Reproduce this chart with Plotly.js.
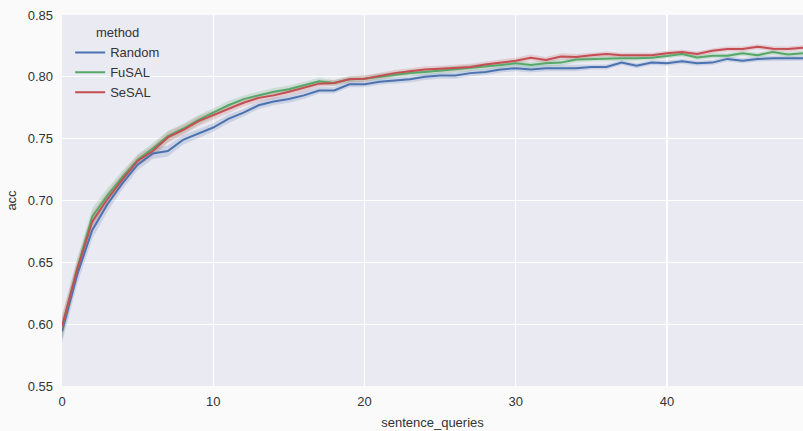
<!DOCTYPE html>
<html>
<head>
<meta charset="utf-8">
<script src="https://cdn.plot.ly/plotly-3.0.1.min.js"></script>
<style>html,body{margin:0;padding:0;background:#fafafa;}#chart{width:803px;height:431px;}</style>
</head>
<body>
<div id="chart"></div>
<script>
const sentenceQueries = [0,1,2,3,4,5,6,7,8,9,10,11,12,13,14,15,16,17,18,19,20,21,22,23,24,25,26,27,28,29,30,31,32,33,34,35,36,37,38,39,40,41,42,43,44,45,46,47,48,49];
const randomAcc = [0.594,0.640,0.676,0.697,0.714,0.729,0.738,0.740,0.749,0.754,0.759,0.766,0.771,0.777,0.780,0.782,0.785,0.789,0.789,0.794,0.794,0.796,0.797,0.798,0.800,0.801,0.801,0.803,0.804,0.806,0.807,0.806,0.807,0.807,0.807,0.808,0.808,0.8115,0.809,0.8115,0.811,0.8125,0.811,0.8115,0.8145,0.813,0.8145,0.815,0.815,0.815];
const fusalAcc = [0.597,0.645,0.687,0.704,0.719,0.733,0.742,0.752,0.758,0.765,0.771,0.777,0.782,0.785,0.788,0.790,0.793,0.7965,0.795,0.798,0.7985,0.800,0.802,0.803,0.804,0.805,0.806,0.807,0.808,0.8095,0.811,0.8095,0.811,0.8115,0.814,0.8145,0.815,0.815,0.815,0.8155,0.8168,0.8185,0.8157,0.817,0.817,0.819,0.8175,0.820,0.818,0.819];
const sesalAcc = [0.598,0.644,0.683,0.701,0.717,0.732,0.740,0.751,0.757,0.764,0.769,0.774,0.779,0.783,0.785,0.788,0.791,0.7945,0.795,0.798,0.7985,0.801,0.803,0.8045,0.806,0.8065,0.807,0.808,0.810,0.8115,0.813,0.8155,0.8136,0.8165,0.816,0.8175,0.8185,0.8175,0.8175,0.8175,0.819,0.820,0.8185,0.821,0.8225,0.8225,0.8244,0.8228,0.8225,0.8236];
const bandHalf = [0.009,0.008,0.007,0.006,0.005,0.0045,0.0045,0.0045,0.004,0.004,0.0035,0.0035,0.003,0.003,0.003,0.003,0.003,0.0025,0.0025,0.0025,0.0025,0.0025,0.0025,0.0025,0.0025,0.0025,0.0025,0.0025,0.0025,0.0025,0.0025,0.0025,0.0025,0.0025,0.0025,0.002,0.002,0.002,0.002,0.002,0.002,0.002,0.002,0.002,0.002,0.002,0.002,0.002,0.002,0.002];
const methods = ["Random","FuSAL","SeSAL"];
const xTicks = [0,10,20,30,40];
const yTicks = [0.55,0.60,0.65,0.70,0.75,0.80,0.85];

const series = [randomAcc, fusalAcc, sesalAcc];
const colors = ["#4C72B0","#55A868","#C44E52"];
const bandColors = ["rgba(76,114,176,0.2)","rgba(85,168,104,0.2)","rgba(196,78,82,0.2)"];

const traces = [];
series.forEach((vals, i) => {
  const up = vals.map((v, k) => v + bandHalf[k]);
  const lo = vals.map((v, k) => v - bandHalf[k]);
  traces.push({x: sentenceQueries.concat(sentenceQueries.slice().reverse()), y: up.concat(lo.slice().reverse()),
    type: "scatter", mode: "lines", fill: "toself", fillcolor: bandColors[i], line: {width: 0}, hoverinfo: "skip", showlegend: false});
});
series.forEach((vals, i) => {
  traces.push({x: sentenceQueries, y: vals, type: "scatter", mode: "lines", name: methods[i], line: {color: colors[i], width: 2}});
});

const layout = {
  width: 803, height: 431,
  margin: {l: 62, r: 0, t: 15, b: 45, pad: 0},
  paper_bgcolor: "#fafafa", plot_bgcolor: "#EAEAF2",
  font: {family: "Liberation Sans, Arial, sans-serif", size: 13, color: "#333333"},
  xaxis: {range: [0, 49], tickvals: xTicks, ticktext: xTicks.map(String), showgrid: true, gridcolor: "#ffffff", gridwidth: 1.3,
    zeroline: false, showline: false, ticks: "", ticklabelstandoff: 6,
    title: {text: "sentence_queries", font: {size: 13, color: "#333333"}, standoff: 9}},
  yaxis: {range: [0.55, 0.85], tickvals: yTicks, ticktext: yTicks.map(v => v.toFixed(2)), showgrid: true, gridcolor: "#ffffff", gridwidth: 1.3,
    zeroline: false, showline: false, ticks: "", ticklabelstandoff: 8,
    title: {text: "acc", font: {size: 13, color: "#333333"}, standoff: 8}},
  legend: {x: 0.011, y: 0.985, xanchor: "left", yanchor: "top", bgcolor: "rgba(0,0,0,0)",
    title: {text: "method", side: "top center", font: {size: 13, color: "#333333"}}, font: {size: 13, color: "#333333"}, tracegroupgap: 0},
  showlegend: true
};
Plotly.newPlot("chart", traces, layout, {displayModeBar: false, staticPlot: true});
</script>
</body>
</html>
